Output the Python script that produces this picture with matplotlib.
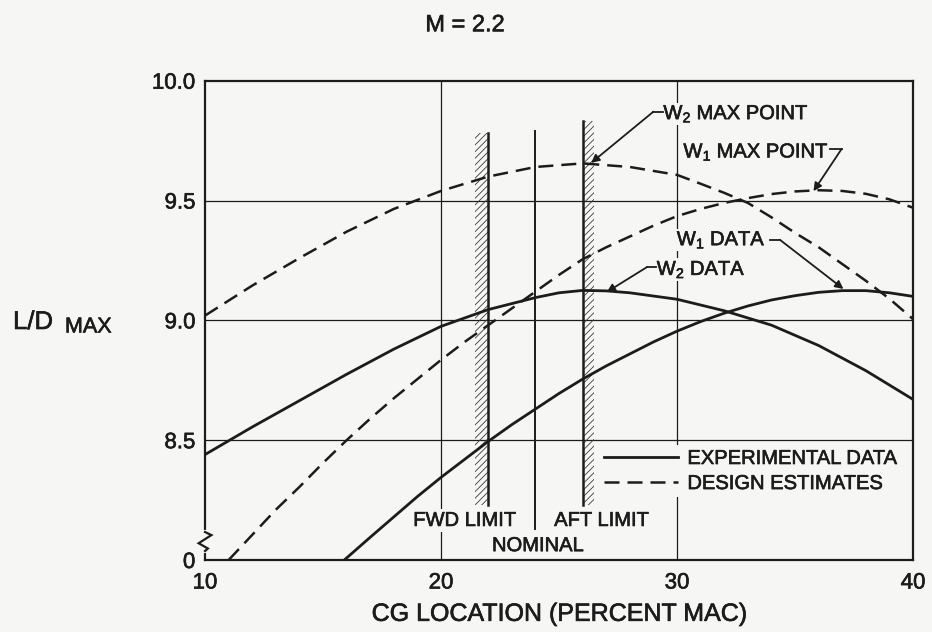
import matplotlib
matplotlib.use('Agg')
import matplotlib.pyplot as plt
import matplotlib.patheffects as pe
from matplotlib.patches import Rectangle
from matplotlib.lines import Line2D
from matplotlib.text import Text

plt.rcParams['font.family'] = ['Liberation Sans', 'DejaVu Sans']
plt.rcParams['mathtext.fontset'] = 'custom'
plt.rcParams['mathtext.rm'] = 'Liberation Sans'
plt.rcParams['mathtext.default'] = 'regular'
plt.rcParams['hatch.linewidth'] = 0.6

BG = '#f6f6f4'
INK = '#1c1c1c'

# ---------------- data ----------------
# W2 design estimate (dashed, upper)
w2_design_x = [10, 12, 14, 16, 18, 20, 22, 24, 26, 28, 30, 31, 32, 33, 34, 35, 36, 37, 38, 39, 40]
w2_design_y = [9.02, 9.145, 9.26, 9.37, 9.465, 9.54, 9.60, 9.64, 9.655, 9.64, 9.607, 9.57,
               9.532, 9.49, 9.43, 9.365, 9.305, 9.235, 9.165, 9.09, 9.005]
# W1 design estimate (dashed, lower)
w1_design_x = [11.0, 12, 13, 14, 15, 16, 17, 18, 19, 20, 21, 22, 23, 24, 25, 26, 27, 28, 29, 30,
               31, 32, 33, 34, 35, 36, 37, 38, 39, 40]
w1_design_y = [8.0, 8.105, 8.21, 8.305, 8.405, 8.50, 8.59, 8.675, 8.755, 8.835, 8.91, 8.98, 9.05,
               9.12, 9.19, 9.255, 9.305, 9.35, 9.395, 9.435, 9.465, 9.49, 9.51, 9.527, 9.538,
               9.543, 9.54, 9.528, 9.505, 9.47]
# W2 experimental data (solid, upper-left)
w2_data_x = [10, 12, 14, 16, 18, 20, 22, 24, 25, 26, 27, 28, 30, 32, 34, 36, 38, 40]
w2_data_y = [8.44, 8.555, 8.665, 8.775, 8.88, 8.975, 9.045, 9.095, 9.115, 9.125, 9.123, 9.115,
             9.088, 9.04, 8.98, 8.895, 8.79, 8.67]
# W1 experimental data (solid, lower)
w1_data_x = [15.9, 17, 18, 19, 20, 21, 22, 23, 24, 25, 26, 27, 28, 29, 30, 31, 32, 33, 34, 35,
             36, 37, 38, 39, 40]
w1_data_y = [8.0, 8.095, 8.18, 8.265, 8.345, 8.42, 8.495, 8.565, 8.63, 8.695, 8.755, 8.81, 8.86,
             8.91, 8.955, 8.995, 9.03, 9.06, 9.085, 9.103, 9.117, 9.124, 9.124, 9.115, 9.10]

x_ticks = [10, 20, 30, 40]
x_ticklabels = ['10', '20', '30', '40']
y_ticks = [8.0, 8.5, 9.0, 9.5, 10.0]
y_ticklabels = ['0', '8.5', '9.0', '9.5', '10.0']
x_grid = [20, 30]
y_grid = [8.5, 9.0, 9.5]

# CG limits: (x of line, y bottom, y top, hatch offset)
fwd_limit = (22.0, 8.23, 9.782, -0.55)
aft_limit = (26.0, 8.23, 9.83, 0.50)
nominal = (24.0, 8.13, 9.79)

# ---------------- figure ----------------
fig = plt.figure(figsize=(9.32, 6.32), dpi=100, facecolor=BG)
ax = fig.add_axes([0.2200, 0.1139, 0.7597, 0.7584], facecolor=BG)
ax.set_xlim(10, 40)
ax.set_ylim(8.0, 10.0)
ax.set_xticks(x_ticks)
ax.set_xticklabels(x_ticklabels)
ax.set_yticks(y_ticks)
ax.set_yticklabels(y_ticklabels)
ax.tick_params(axis='both', length=0, labelsize=16, colors=INK)
ax.tick_params(axis='x', pad=9)
ax.tick_params(axis='y', pad=7)
for s in ax.spines.values():
    s.set_linewidth(1.6)
    s.set_color(INK)

for gx in x_grid:
    ax.axvline(gx, color=INK, lw=0.9, zorder=1)
for gy in y_grid:
    ax.axhline(gy, color=INK, lw=0.9, zorder=1)

# axis break symbol on left spine
ax.plot([0, 0], [0.0188, 0.0584], transform=ax.transAxes, color=BG, lw=3, clip_on=False, zorder=5)
ax.plot([0, 0.009, -0.009, 0.004, 0], [0.0584, 0.052, 0.035, 0.024, 0.0188],
        transform=ax.transAxes, color=INK, lw=1.6, clip_on=False, zorder=6,
        solid_joinstyle='miter')

# curves
dash = (0, (6, 3.2))
ax.plot(w2_design_x, w2_design_y, color=INK, lw=1.8, ls=dash, zorder=3)
ax.plot(w1_design_x, w1_design_y, color=INK, lw=1.8, ls=dash, zorder=3)
ax.plot(w2_data_x, w2_data_y, color=INK, lw=2.0, zorder=3)
ax.plot(w1_data_x, w1_data_y, color=INK, lw=2.0, zorder=3)

# CG limit bars
for (lx, yb, yt, off) in (fwd_limit, aft_limit):
    ax.add_patch(Rectangle((min(lx, lx + off), yb), abs(off), yt - yb, facecolor='none',
                           edgecolor='#3a3a3a', lw=0, hatch='/////', zorder=2))
    ax.plot([lx, lx], [yb, yt], color=INK, lw=1.8, zorder=4)
ax.plot([nominal[0], nominal[0]], [nominal[1], nominal[2]], color=INK, lw=1.4, zorder=4)

lbl_box = dict(facecolor=BG, edgecolor='none', pad=1.5)
ax.text(21.0, 8.165, 'FWD LIMIT', fontsize=14.5, ha='center', va='center', color=INK,
        bbox=lbl_box, zorder=5)
ax.text(26.8, 8.165, 'AFT LIMIT', fontsize=14.5, ha='center', va='center', color=INK,
        bbox=lbl_box, zorder=5)
ax.text(24.1, 8.06, 'NOMINAL', fontsize=14.5, ha='center', va='center', color=INK,
        bbox=lbl_box, zorder=5)

# annotations: text, text anchor, leader (tick start, tick end), arrow tip
arrow_kw = dict(arrowstyle='-|>', color=INK, lw=1.3, mutation_scale=12, shrinkA=0, shrinkB=0)
annots = [
    ('W$_2$ MAX POINT', (29.42, 9.862), 'left', (29.40, 9.871), (29.0, 9.871), (26.36, 9.657)),
    ('W$_1$ MAX POINT', (30.27, 9.702), 'left', (36.48, 9.715), (36.97, 9.715), (35.78, 9.539)),
    ('W$_1$ DATA', (29.99, 9.336), 'left', (33.94, 9.336), (34.36, 9.336), (37.05, 9.131)),
    ('W$_2$ DATA', (29.14, 9.212), 'left', (29.12, 9.222), (28.72, 9.222), (27.02, 9.118)),
]
for txt, pos, ha, t0, t1, tip in annots:
    ax.text(pos[0], pos[1], txt, fontsize=14.5, ha=ha, va='center', color=INK,
            bbox=dict(facecolor=BG, edgecolor='none', pad=0.5), zorder=5)
    ax.plot([t0[0], t1[0]], [t0[1], t1[1]], color=INK, lw=1.3, zorder=5)
    ax.annotate('', xy=tip, xytext=t1, arrowprops=arrow_kw, zorder=5)

# legend
handles = [Line2D([], [], color=INK, lw=2.0),
           Line2D([], [], color=INK, lw=1.8, ls=dash)]
leg = ax.legend(handles, ['EXPERIMENTAL DATA', 'DESIGN ESTIMATES'], loc='upper left',
                bbox_to_anchor=(0.5575, 0.240), fontsize=14.5, frameon=True,
                handlelength=3.7, handletextpad=0.45, labelspacing=0.3, borderpad=0.2,
                borderaxespad=0, fancybox=False)
leg.get_frame().set_facecolor(BG)
leg.get_frame().set_edgecolor('none')
leg.get_frame().set_alpha(1)
leg.set_zorder(6)
for t in leg.get_texts():
    t.set_color(INK)

ax.set_xlabel('CG LOCATION (PERCENT MAC)', fontsize=18, color=INK, labelpad=6)
fig.text(0.014, 0.4905, 'L/D', fontsize=18.5, ha='left', va='center', color=INK)
fig.text(0.0697, 0.4826, 'MAX', fontsize=15.5, ha='left', va='center', color=INK)
fig.text(0.499, 0.960, 'M = 2.2', fontsize=17, ha='center', va='center', color=INK)

# thicken all text strokes slightly (scanned-print look)
for t in fig.findobj(Text):
    if t.get_text():
        t.set_path_effects([pe.withStroke(linewidth=0.45, foreground=INK)])

fig.savefig('out.png', dpi=100, facecolor=BG)
